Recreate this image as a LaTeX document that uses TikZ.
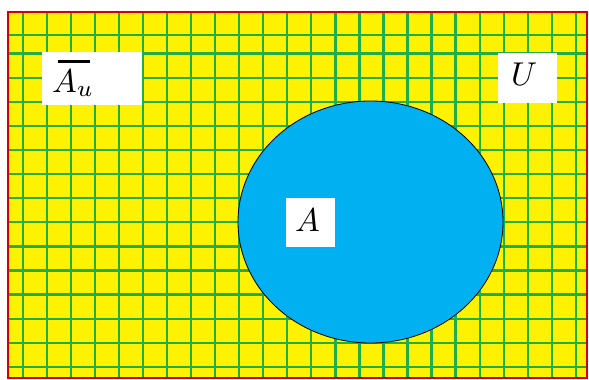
\documentclass[tikz,border=0pt]{standalone}
\usetikzlibrary{shapes.geometric}
\definecolor{gridgreen}{RGB}{30,175,75}
\definecolor{setblue}{RGB}{0,176,240}
\definecolor{frame}{RGB}{210,0,0}
\newcommand{\bigtxt}[1]{\scalebox{3.3}{#1}}
\begin{document}
\begin{tikzpicture}[x=1pt,y=-1pt,
  gridline/.style={draw=gridgreen,line width=2.3pt},
  labelbox/.style={fill=white,draw=none},
  lbl/.style={inner sep=0pt,anchor=base west}]
\useasboundingbox (0,0) rectangle (589,380);
\fill[white] (0,0) rectangle (589,380);
\fill[yellow] (8,12) rectangle (587,378);
% grid
\foreach \i in {0,...,23} {
  \draw[gridline] ({22.7+24.05*\i},12) -- ({22.7+24.05*\i},378);
}
\draw[gridline] (8,35) -- (587,35);
\foreach \j in {0,...,13} {
  \draw[gridline] (8,{53.6+24.1*\j}) -- (587,{53.6+24.1*\j});
}
% label boxes
\fill[labelbox] (42,52) rectangle (142,105);
\fill[labelbox] (498,53) rectangle (557,103);
\node[lbl] (au) at (52,92) {\bigtxt{$A_u$}};
\draw[line width=3pt] (58,61) -- (90,61);
\node[lbl] (u) at (511,85) {\bigtxt{$U$}};
% set A
\node[ellipse,draw=black,line width=0.8pt,fill=setblue,inner sep=0pt,
  minimum width=265pt,minimum height=242pt] (setA) at (370.5,222) {};
\fill[labelbox] (286,198) rectangle (335,247);
\node[lbl] (a) at (295,231) {\bigtxt{$A$}};
% frame
\draw[frame,line width=2.5pt] (8,12) rectangle (587,378);
\end{tikzpicture}
\end{document}
